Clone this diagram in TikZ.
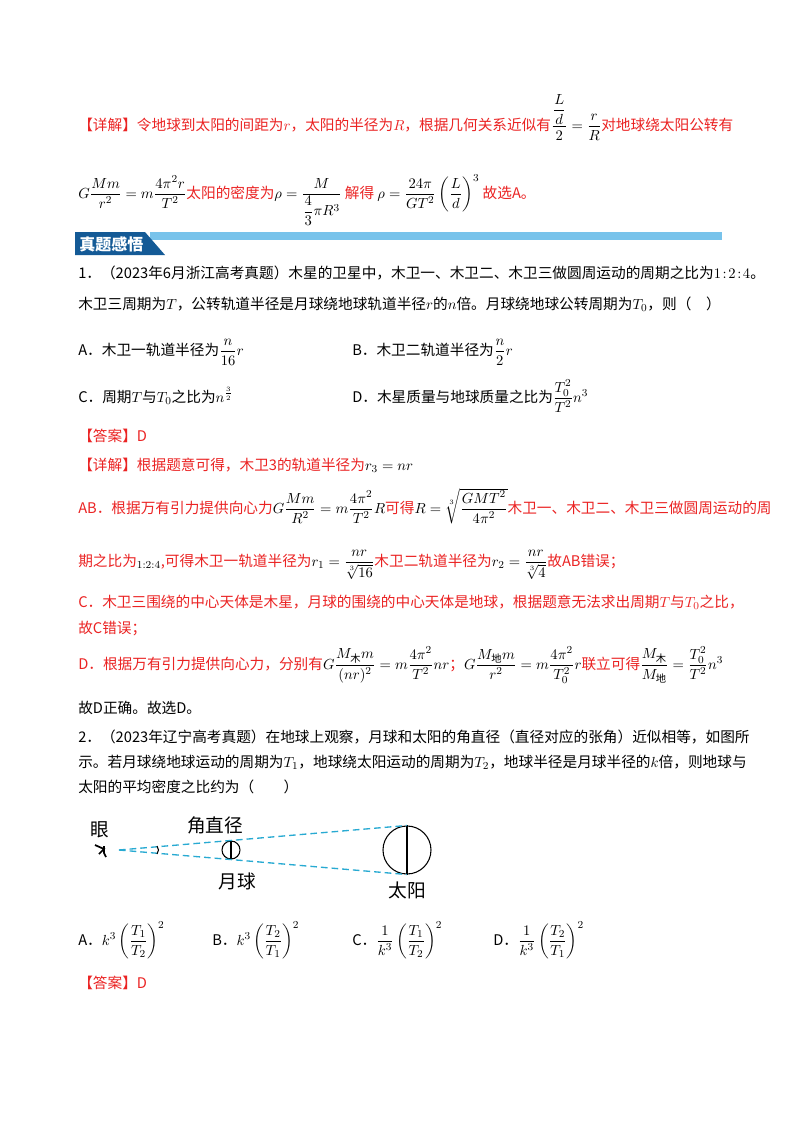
\documentclass[tikz,border=0pt]{standalone}
\usepackage{amsmath}
\usepackage{fontspec}
\setmainfont{Noto Sans CJK SC}
\definecolor{myred}{RGB}{235,35,35}
\definecolor{tabblue}{RGB}{20,90,150}
\definecolor{barblue}{RGB}{120,195,235}
\definecolor{dashblue}{RGB}{40,170,210}
\tikzset{txt/.style={anchor=base west,inner sep=0pt,font=\fontsize{11}{13}\selectfont},
 rt/.style={txt,text=myred}}
\begin{document}
\begin{tikzpicture}[x=0.75pt,y=-0.75pt]
\useasboundingbox[fill=white] (0,0) rectangle (800,1132);
\node[rt] (l1) at (78,130) {【详解】令地球到太阳的间距为$r$，太阳的半径为$R$，根据几何关系近似有\color{black}$\dfrac{\dfrac{L}{d}}{2}=\dfrac{r}{R}$\color{myred}对地球绕太阳公转有};
\node[rt] (l2) at (78,198) {\color{black}$G\dfrac{Mm}{r^2}=m\dfrac{4\pi^2r}{T^2}$\color{myred}太阳的密度为\color{black}$\rho=\dfrac{M}{\dfrac{4}{3}\pi R^3}$ \color{myred}解得 \color{black}$\rho=\dfrac{24\pi}{GT^2}\left(\dfrac{L}{d}\right)^3$ \color{myred}故选A。};
% header
\fill[barblue] (150,232) rectangle (722,240);
\fill[tabblue] (75,232) -- (145,232) -- (165,255) -- (75,255) -- cycle;
\node[txt,text=white,font=\bfseries\fontsize{12}{14}\selectfont] (hd) at (79,250) {真题感悟};
\node[txt] (q1a) at (78,278) {1．（2023年6月浙江高考真题）木星的卫星中，木卫一、木卫二、木卫三做圆周运动的周期之比为$1\!:\!2\!:\!4$。};
\node[txt] (q1b) at (78,309) {木卫三周期为$T$，公转轨道半径是月球绕地球轨道半径$r$的$n$倍。月球绕地球公转周期为$T_0$，则（\quad）};
\node[txt] (oA) at (78,355) {A．木卫一轨道半径为$\dfrac{n}{16}r$};
\node[txt] (oB) at (352,355) {B．木卫二轨道半径为$\dfrac{n}{2}r$};
\node[txt] (oC) at (78,402) {C．周期$T$与$T_0$之比为$n^{\frac{3}{2}}$};
\node[txt] (oD) at (352,402) {D．木星质量与地球质量之比为$\dfrac{T_0^2}{T^2}n^3$};
\node[rt] (ans1) at (78,441) {【答案】D};
\node[rt] (x1) at (78,470) {【详解】根据题意可得，木卫3的轨道半径为\color{black}$r_3=nr$};
\node[rt] (x2) at (78,513) {AB．根据万有引力提供向心力\color{black}$G\dfrac{Mm}{R^2}=m\dfrac{4\pi^2}{T^2}R$\color{myred}可得\color{black}$R=\sqrt[3]{\dfrac{GMT^2}{4\pi^2}}$\color{myred}木卫一、木卫二、木卫三做圆周运动的周};
\node[rt] (x3) at (78,566) {期之比为\color{black}$_{1:2:4}$\color{myred},可得木卫一轨道半径为\color{black}$r_1=\dfrac{nr}{\sqrt[3]{16}}$\color{myred}木卫二轨道半径为\color{black}$r_2=\dfrac{nr}{\sqrt[3]{4}}$\color{myred}故AB错误；};
\node[rt] (x4) at (78,607) {C．木卫三围绕的中心天体是木星，月球的围绕的中心天体是地球，根据题意无法求出周期$T$与$T_0$之比，};
\node[rt] (x5) at (78,633) {故C错误；};
\node[rt] (x6) at (78,669) {D．根据万有引力提供向心力，分别有\color{black}$G\dfrac{M_{\text{木}}m}{(nr)^2}=m\dfrac{4\pi^2}{T^2}nr$\color{myred}；\color{black}$G\dfrac{M_{\text{地}}m}{r^2}=m\dfrac{4\pi^2}{T_0^2}r$\color{myred}联立可得\color{black}$\dfrac{M_{\text{木}}}{M_{\text{地}}}=\dfrac{T_0^2}{T^2}n^3$};
\node[txt] (x7) at (78,713) {故D正确。故选D。};
\node[txt] (q2a) at (78,742) {2．（2023年辽宁高考真题）在地球上观察，月球和太阳的角直径（直径对应的张角）近似相等，如图所};
\node[txt] (q2b) at (78,767) {示。若月球绕地球运动的周期为$T_1$，地球绕太阳运动的周期为$T_2$，地球半径是月球半径的$k$倍，则地球与};
\node[txt] (q2c) at (78,792) {太阳的平均密度之比约为（\qquad）};
% figure
\coordinate (eye) at (119,850);
\node[font=\fontsize{14}{16}\selectfont,inner sep=0pt] (yan) at (100,830) {眼};
\draw[line width=1.3pt] (95,845) -- (104,849) -- (99,854) (104,846) -- (104,853) -- (106,857);
\node[draw,circle,minimum size=48*0.75pt,inner sep=0pt,line width=0.8pt] (sun) at (407,850) {};
\draw[line width=0.8pt] (sun.north) -- (sun.south);
\node[draw,circle,minimum size=18*0.75pt,inner sep=0pt,line width=0.8pt] (moon) at (231,850) {};
\draw[line width=0.8pt] (moon.north) -- (moon.south);
\draw[dashblue,line width=1pt,dash pattern=on 5pt off 3pt] (eye) -- (sun.north);
\draw[dashblue,line width=1pt,dash pattern=on 5pt off 3pt] (eye) -- (sun.south);
\draw[line width=0.8pt] (157,846) to[bend left=40] (157,854);
\node[font=\fontsize{14}{16}\selectfont,inner sep=0pt] (jz) at (215,825) {角直径};
\node[font=\fontsize{14}{16}\selectfont,inner sep=0pt] (yq) at (237,881) {月球};
\node[font=\fontsize{14}{16}\selectfont,inner sep=0pt] (ty) at (407,890) {太阳};
\node[txt] (a2) at (78,945) {A．$k^3\left(\dfrac{T_1}{T_2}\right)^2$};
\node[txt] (b2) at (212,945) {B．$k^3\left(\dfrac{T_2}{T_1}\right)^2$};
\node[txt] (c2) at (352,945) {C．$\dfrac{1}{k^3}\left(\dfrac{T_1}{T_2}\right)^2$};
\node[txt] (d2) at (493,945) {D．$\dfrac{1}{k^3}\left(\dfrac{T_2}{T_1}\right)^2$};
\node[rt] (ans2) at (78,988) {【答案】D};
\end{tikzpicture}
\end{document}
